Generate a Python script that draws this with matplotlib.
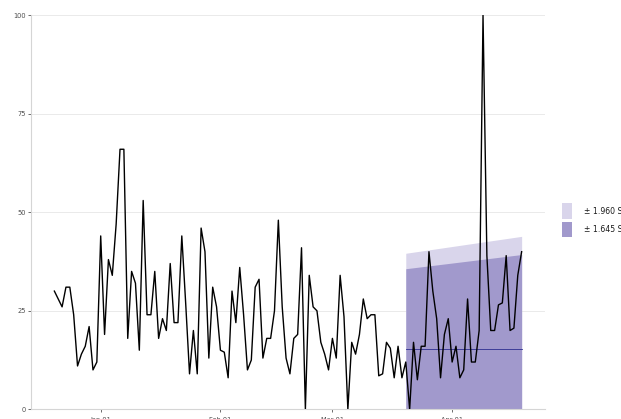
import matplotlib
matplotlib.use("Agg")
import numpy as np
import pandas as pd
import matplotlib.pyplot as plt
import matplotlib.dates as mdates
from matplotlib.patches import Rectangle

# Daily observed series
start_date = "2015-12-20"
values = [
    30, 28, 26, 31, 31, 24, 11, 14, 16, 21,
    10, 12, 44, 19, 38, 34, 47, 66, 66, 18,
    35, 32, 15, 53, 24, 24, 35, 18, 23, 20,
    37, 22, 22, 44, 27, 9, 20, 9, 46, 40,
    13, 31, 26, 15, 14.5, 8, 30, 22, 36, 24,
    10, 12.5, 31, 33, 13, 18, 18, 25, 48, 26,
    13, 9, 18, 19, 41, 0, 34, 26, 25, 17,
    14, 10, 18, 13, 34, 23.5, 0, 17, 14, 19,
    28, 23, 24, 24, 8.5, 9, 17, 15.5, 8, 16,
    8, 12, 0, 17, 7.5, 16, 16, 40, 30, 23,
    8, 19, 23, 12, 16, 8, 10, 28, 12, 12,
    20, 100, 39, 20, 20, 26.5, 27, 39, 20, 20.6,
    34, 40,
]

# Forecast: flat mean with standard error growing over the horizon
fc_dates = ["2016-03-20", "2016-04-19"]
fc_mean = [15.2, 15.2]
fc_se = [12.45, 14.64]
z_levels = [1.960, 1.645]
band_labels = ["\u00b1 1.960 SE", "\u00b1 1.645 SE"]
band_colors = ["#D9D5EB", "#A199CC"]

tick_dates = ["2016-01-01", "2016-02-01", "2016-03-01", "2016-04-01"]
y_ticks = [0, 25, 50, 75, 100]

dates = pd.date_range(start_date, periods=len(values), freq="D")
fcd = pd.to_datetime(fc_dates)
mean = np.array(fc_mean)
se = np.array(fc_se)

W, H = 621, 419
fig = plt.figure(figsize=(W / 100, H / 100), dpi=100)
ax = fig.add_axes([31 / W, 1 - 409.3 / H, (545 - 31) / W, (409.3 - 15.3) / H])

for z, col in zip(z_levels, band_colors):
    ax.fill_between(fcd, mean - z * se, mean + z * se, color=col, lw=0, zorder=2)
ax.plot(fcd, mean, color="#2E2E90", lw=0.6, zorder=3)
ax.plot(dates, values, color="black", lw=1.0, zorder=4)

pad = pd.Timedelta(days=6.05)
ax.set_xlim(dates[0] - pad, dates[-1] + pad)
ax.set_ylim(0, 100)
ax.set_yticks(y_ticks)
ax.set_xticks(pd.to_datetime(tick_dates))
ax.xaxis.set_major_formatter(mdates.DateFormatter("%b %d"))

ax.grid(axis="y", color="#E6E6E6", lw=0.6, zorder=0)
ax.set_axisbelow(True)
for s in ["top", "right"]:
    ax.spines[s].set_visible(False)
for s in ["left", "bottom"]:
    ax.spines[s].set_color("#D5D5D5")
    ax.spines[s].set_linewidth(0.8)
ax.tick_params(axis="both", labelsize=4.8, colors="#333333", labelcolor="#4D4D4D",
               length=2, width=0.5, pad=1.5)
ax.tick_params(axis="x", pad=3.2)

# Legend keys and labels at the right margin
key_rows = [(203.3, 219.3), (221.7, 236.7)]
for (y0, y1), col, lab in zip(key_rows, band_colors, band_labels):
    fig.add_artist(Rectangle((561.5 / W, 1 - y1 / H), (572.3 - 561.5) / W, (y1 - y0) / H,
                             transform=fig.transFigure, facecolor=col, edgecolor="none"))
    fig.text(583.5 / W, 1 - (y0 + y1) / 2 / H, lab, fontsize=5.6, color="#1A1A1A",
             ha="left", va="center")

fig.savefig("out.png", dpi=100)
